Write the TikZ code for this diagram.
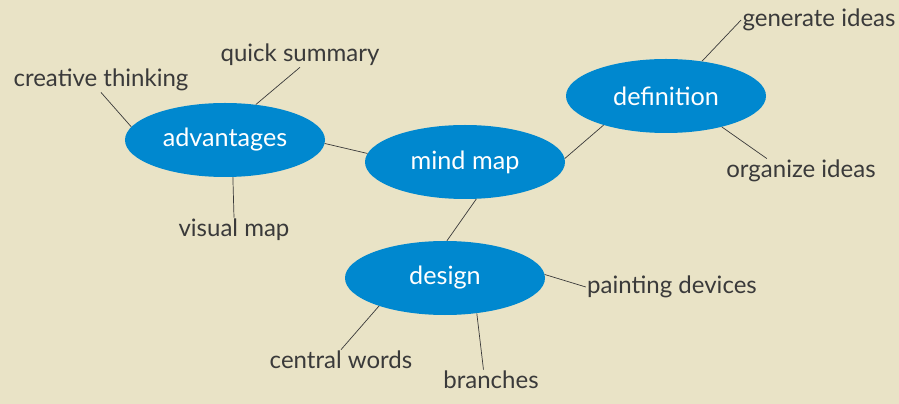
\documentclass[tikz,border=0pt]{standalone}
\usepackage{fontspec}
\setmainfont{Lato}
\usepackage{xcolor}
\usetikzlibrary{shapes.geometric}
\definecolor{paper}{HTML}{E9E3C6}
\definecolor{topicblue}{HTML}{0088CF}
\definecolor{inkgray}{HTML}{3A3A3A}
\tikzset{
  topic/.style={ellipse, fill=topicblue, text=white, inner sep=0pt,
    minimum width=6cm, minimum height=2.22cm, font=\fontsize{21.5}{24}\selectfont},
  leaf/.style={text=inkgray, inner sep=1pt, font=\fontsize{20.5}{24}\selectfont},
  branchline/.style={draw=inkgray, line width=0.6pt}
}
\begin{document}
\begin{tikzpicture}[x=0.03cm,y=-0.03cm]
		\useasboundingbox[fill=paper] (0,0) rectangle (899,404);
		\node[topic] (adv) at (225,140) {advantages};
		\node[topic] (mind) at (465,162) {mind map};
		\node[topic] (defn) at (666,96) {definition};
		\node[topic] (design) at (445,278) {design};
		%
		\node[leaf] (crea) at (101,80) {creative thinking};
		\node[leaf] (quick) at (300,55) {quick summary};
		\node[leaf] (visual) at (234,230) {visual map};
		\node[leaf] (gen) at (819,20) {generate ideas};
		\node[leaf] (org) at (801,171) {organize ideas};
		\node[leaf] (paint) at (672,287) {painting devices};
		\node[leaf] (central) at (341,360) {central words};
		\node[leaf] (branch) at (491,380) {branches};
		%
		\path[branchline]
		(adv.358) edge (mind.175)
		(mind.2) edge (defn.205)
		(mind.287) edge (design.87)
		(adv.172) edge (crea.south)
		(adv.49) edge (quick.south)
		(adv.282) edge (visual.north)
		(defn.44) edge (gen.west)
		(defn.331) edge (org.160)
		(design.2) edge (paint.west)
		(design.203) edge (central.north)
		(design.312) edge (branch.126);
		\end{tikzpicture}
\end{document}
